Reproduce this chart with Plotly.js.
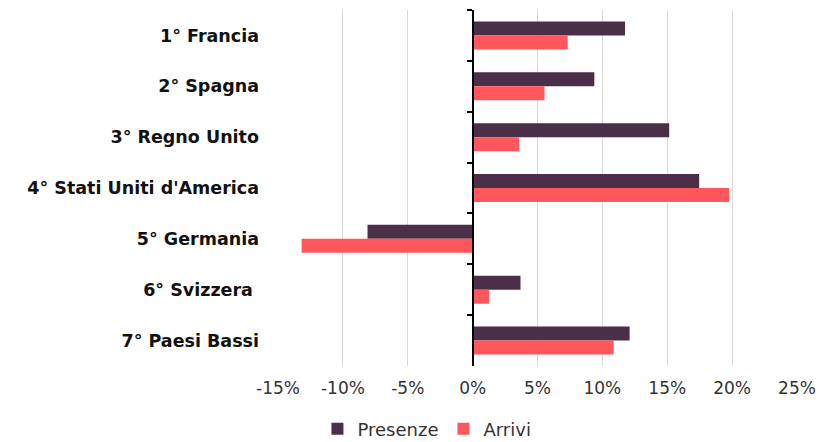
<!DOCTYPE html>
<html>
<head>
<meta charset="utf-8">
<script src="https://cdn.plot.ly/plotly-3.0.1.min.js"></script>
<style>html,body{margin:0;padding:0;background:#fff;}#chart{width:826px;height:442px;}</style>
</head>
<body>
<div id="chart"></div>
<script>
var categories = ["1° Francia", "2° Spagna", "3° Regno Unito", "4° Stati Uniti d'America", "5° Germania", "6° Svizzera\u00a0", "7° Paesi Bassi"];
var presenze = [11.75, 9.38, 15.15, 17.46, -8.1, 3.69, 12.1];
var arrivi = [7.33, 5.54, 3.58, 19.76, -13.18, 1.26, 10.87];
var xTickVals = [-15, -10, -5, 0, 5, 10, 15, 20, 25];
var xTickText = ["-15%", "-10%", "-5%", "0%", "5%", "10%", "15%", "20%", "25%"];

var fontFam = "DejaVu Sans, sans-serif";
var traces = [
  {type: "bar", orientation: "h", name: "Presenze", y: categories, x: presenze,
   marker: {color: "#4b2f48"}, hoverinfo: "x+name"},
  {type: "bar", orientation: "h", name: "Arrivi", y: categories, x: arrivi,
   marker: {color: "#ff575c"}, hoverinfo: "x+name"},
  {type: "scatter", mode: "none", y: categories, x: categories.map(function(){return 0;}),
   yaxis: "y2", showlegend: false, hoverinfo: "skip"}
];
var layout = {
  width: 826, height: 442,
  margin: {l: 278, r: 29, t: 10, b: 76, autoexpand: false},
  paper_bgcolor: "#fff", plot_bgcolor: "#fff",
  barmode: "group", bargap: 0.45, bargroupgap: 0,
  font: {family: fontFam, color: "#1a1a1a"},
  showlegend: true,
  legend: {orientation: "h", x: 0.287, xanchor: "center", y: -0.125, yanchor: "top",
           font: {size: 18, color: "#333"}, traceorder: "normal", itemwidth: 30},
  xaxis: {range: [-15, 25], tickvals: xTickVals, ticktext: xTickText,
          showgrid: true, gridcolor: "#d9d9d9", gridwidth: 1, zeroline: false,
          showline: false, ticks: "", ticklabelstandoff: 10,
          tickfont: {size: 17, color: "#333"}, fixedrange: true},
  yaxis: {type: "category", categoryorder: "array", categoryarray: categories,
          autorange: "reversed", showgrid: false, zeroline: false, showline: false,
          ticks: "", ticklabelstandoff: 18,
          tickfont: {size: 17.5, color: "#111", weight: "bold", family: fontFam}, fixedrange: true},
  yaxis2: {matches: "y", overlaying: "y", anchor: "free", position: 0.375, side: "left",
           type: "category", categoryorder: "array", categoryarray: categories,
           showline: true, linecolor: "#000", linewidth: 2, showgrid: false, zeroline: false,
           ticks: "outside", tickson: "boundaries", ticklen: 5, tickwidth: 2, tickcolor: "#000",
           showticklabels: false, fixedrange: true}
};
Plotly.newPlot("chart", traces, layout, {displayModeBar: false, staticPlot: true});
</script>
</body>
</html>
